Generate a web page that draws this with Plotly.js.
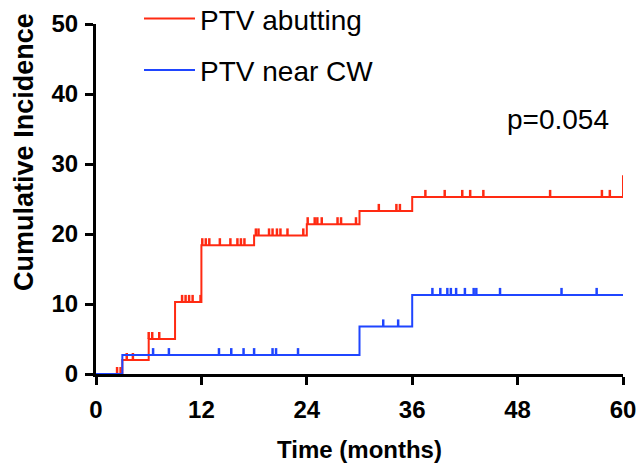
<!DOCTYPE html>
<html>
<head>
<meta charset="utf-8">
<script src="https://cdn.plot.ly/plotly-3.0.1.min.js"></script>
<style>html,body{margin:0;padding:0;background:#fff;}#chart{width:639px;height:464px;}</style>
</head>
<body>
<div id="chart"></div>
<script>
// Step curves (time in months, cumulative incidence %)
const abuttingTime  = [0, 3, 6, 9, 12, 18, 24, 30, 36, 60, 60];
const abuttingValue = [0, 2.0, 5.0, 10.3, 18.4, 19.8, 21.4, 23.3, 25.3, 25.3, 28.4];
const nearTime  = [0, 3, 30, 36, 60];
const nearValue = [0, 2.7, 6.8, 11.3, 11.3];

// Censored observations
const abuttingCensorTime = [2.4, 2.8, 3.5, 4.2, 6.0, 6.4, 7.2, 9.8, 10.2, 10.6, 11.0, 11.9,
  12.1, 12.5, 12.9, 14.1, 15.3, 16.1, 16.5, 16.9, 18.2, 18.5, 19.7, 20.1, 20.6, 21.0, 21.8, 23.6,
  24.1, 24.9, 25.2, 25.7, 27.5, 27.9, 29.6, 32.2, 34.2, 34.6,
  37.5, 39.7, 41.7, 42.6, 44.1, 51.7, 57.6, 58.5];
const abuttingCensorValue = [0, 0, 2.0, 2.0, 5.0, 5.0, 5.0, 10.3, 10.3, 10.3, 10.3, 10.3,
  18.4, 18.4, 18.4, 18.4, 18.4, 18.4, 18.4, 18.4, 19.8, 19.8, 19.8, 19.8, 19.8, 19.8, 19.8, 19.8,
  21.4, 21.4, 21.4, 21.4, 21.4, 21.4, 21.4, 23.3, 23.3, 23.3,
  25.3, 25.3, 25.3, 25.3, 25.3, 25.3, 25.3, 25.3];
const nearCensorTime = [6.5, 8.3, 14.0, 15.4, 16.8, 18.0, 20.1, 20.5, 23.0, 32.7, 34.4,
  38.3, 39.2, 40.0, 40.4, 41.0, 42.0, 43.0, 43.3, 46.0, 53.0, 57.0];
const nearCensorValue = [2.7, 2.7, 2.7, 2.7, 2.7, 2.7, 2.7, 2.7, 2.7, 6.8, 6.8,
  11.3, 11.3, 11.3, 11.3, 11.3, 11.3, 11.3, 11.3, 11.3, 11.3, 11.3];

const xTicks = [0, 12, 24, 36, 48, 60];
const yTicks = [0, 10, 20, 30, 40, 50];
const seriesNames = ['PTV abutting', 'PTV near CW'];
const xTitle = 'Time (months)';
const yTitle = 'Cumulative Incidence';
const pValueText = 'p=0.054';

const RED = '#ff2a12', BLUE = '#1f45ff';
const FONT = 'Arial, "Liberation Sans", Helvetica, sans-serif';

function censorTrace(x, y, color, group) {
  return {
    x: x, y: y, type: 'scatter', mode: 'markers', showlegend: false, hoverinfo: 'skip',
    legendgroup: group,
    marker: {size: 1, opacity: 0, color: color},
    error_y: {type: 'constant', value: 1.0, valueminus: 0, symmetric: false,
              width: 0, thickness: 2.5, color: color}
  };
}

const traces = [
  censorTrace(abuttingCensorTime, abuttingCensorValue, RED, 'a'),
  censorTrace(nearCensorTime, nearCensorValue, BLUE, 'b'),
  {x: abuttingTime, y: abuttingValue, type: 'scatter', mode: 'lines', name: seriesNames[0],
   legendgroup: 'a', line: {shape: 'hv', color: RED, width: 2}},
  {x: nearTime, y: nearValue, type: 'scatter', mode: 'lines', name: seriesNames[1],
   legendgroup: 'b', line: {shape: 'hv', color: BLUE, width: 2}}
];

const axisCommon = {
  showgrid: false, zeroline: false, showline: true, linecolor: '#000', linewidth: 3,
  ticks: 'outside', ticklen: 8, tickwidth: 3, tickcolor: '#000',
  tickfont: {family: FONT, size: 24, color: '#000', weight: 'bold'}
};

const layout = {
  width: 639, height: 464,
  margin: {l: 96, r: 16, t: 24, b: 90, autoexpand: false},
  paper_bgcolor: '#fff', plot_bgcolor: '#fff',
  font: {family: FONT, color: '#000'},
  xaxis: Object.assign({}, axisCommon, {
    range: [0, 60], tickvals: xTicks, ticktext: xTicks.map(String), ticklabelstandoff: 4,
    title: {text: xTitle, font: {family: FONT, size: 24, weight: 'bold', color: '#000'}, standoff: 20}
  }),
  yaxis: Object.assign({}, axisCommon, {
    range: [0, 50], tickvals: yTicks, ticktext: yTicks.map(String), ticklabelstandoff: 2
  }),
  legend: {
    x: 0.0816, y: 1.086, xanchor: 'left', yanchor: 'top',
    bgcolor: 'rgba(0,0,0,0)', borderwidth: 0,
    font: {family: FONT, size: 28, color: '#000'},
    tracegroupgap: 12, itemwidth: 51
  },
  annotations: [
    {text: pValueText, xref: 'paper', yref: 'paper', x: 0.978, y: 0.726,
     xanchor: 'right', yanchor: 'middle', showarrow: false,
     font: {family: FONT, size: 28, color: '#000'}},
    {text: yTitle, xref: 'paper', yref: 'paper', x: -0.137, y: 0.634, textangle: -90,
     xanchor: 'center', yanchor: 'middle', showarrow: false,
     font: {family: FONT, size: 27, weight: 'bold', color: '#000'}}
  ]
};

Plotly.newPlot('chart', traces, layout, {staticPlot: true, displayModeBar: false});
</script>
</body>
</html>
